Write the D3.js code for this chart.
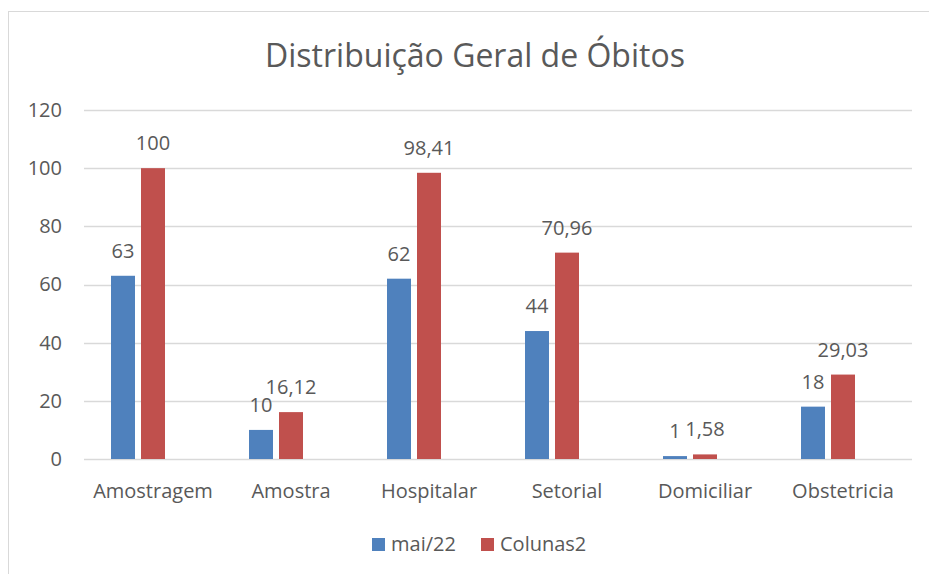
<!DOCTYPE html>
<html>
<head>
<meta charset="utf-8">
<script src="https://cdn.jsdelivr.net/npm/d3@7"></script>
<style>
  body { margin: 0; background: #fff; }
  text { font-family: "Open Sans", sans-serif; fill: #595959; }
</style>
</head>
<body>
<div id="container"></div>
<script>
var categories = ["Amostragem", "Amostra", "Hospitalar", "Setorial", "Domiciliar", "Obstetricia"];
var seriesNames = ["mai/22", "Colunas2", "Colunas3"];
var maiValues = [63, 10, 62, 44, 1, 18];
var colunas2Values = [100, 16.12, 98.41, 70.96, 1.58, 29.03];
var yTicks = [0, 20, 40, 60, 80, 100, 120];
var seriesColors = ["#4f81bd", "#c0504d", "none"];

var chartWidth = 929, chartHeight = 574;
var margin = {left: 84, right: 17, top: 110, bottom: 115};
var labelSize = "20px";

var svg = d3.select("#container").
append("svg").
attr("width", chartWidth).
attr("height", chartHeight);

// chart border (only left and top visible in the picture)
svg.append("rect").
attr("x", 8.5).
attr("y", 11.5).
attr("width", 940).
attr("height", 600).
attr("fill", "none").
attr("stroke", "#d9d9d9");

svg.append("text").
attr("x", 475).
attr("y", 67).
attr("text-anchor", "middle").
style("font-size", "32px").
text("Distribuição Geral de Óbitos");

var x0 = d3.scaleBand().
domain(categories).
range([margin.left, chartWidth - margin.right]);

var x1 = d3.scaleBand().
domain(seriesNames).
range([(x0.bandwidth() - 84) / 2, (x0.bandwidth() + 84) / 2]).
paddingInner(0.2);

var y = d3.scaleLinear().
domain([0, 120]).
range([chartHeight - margin.bottom, margin.top]);

// gridlines
svg.append("g").
selectAll("line").
data(yTicks).
enter().
append("line").
attr("x1", margin.left).
attr("x2", chartWidth - margin.right).
attr("y1", function (d) {return Math.round(y(d)) + 0.5;}).
attr("y2", function (d) {return Math.round(y(d)) + 0.5;}).
attr("stroke", "#d9d9d9").
attr("stroke-width", 1.5);

// y axis labels
var yAxis = d3.axisLeft(y).tickValues(yTicks).tickSize(0).tickPadding(22);
var yG = svg.append("g").
attr("transform", "translate(" + margin.left + ",0)").
call(yAxis);
yG.select(".domain").remove();
yG.selectAll("text").style("font-size", labelSize).style("font-family", null).attr("fill", null);

// x axis labels
var xAxis = d3.axisBottom(x0).tickSize(0).tickPadding(25);
var xG = svg.append("g").
attr("transform", "translate(0," + y(0) + ")").
call(xAxis);
xG.select(".domain").remove();
xG.selectAll("text").style("font-size", labelSize).style("font-family", null).attr("fill", null);

var seriesData = [maiValues, colunas2Values];

// bars
seriesData.forEach(function (values, s) {
  var g = svg.append("g");
  g.selectAll("rect").
  data(values).
  enter().
  append("rect").
  attr("x", function (d, i) {return x0(categories[i]) + x1(seriesNames[s]);}).
  attr("y", function (d) {return y(d);}).
  attr("width", x1.bandwidth()).
  attr("height", function (d) {return y(0) - y(d);}).
  attr("fill", seriesColors[s]);

  g.selectAll("text").
  data(values).
  enter().
  append("text").
  attr("x", function (d, i) {return x0(categories[i]) + x1(seriesNames[s]) + x1.bandwidth() / 2;}).
  attr("y", function (d) {return y(d) - 18;}).
  attr("text-anchor", "middle").
  style("font-size", labelSize).
  text(function (d) {return String(d).replace(".", ",");});
});

// legend
var legendItems = [
  {name: "mai/22", color: seriesColors[0], x: 372},
  {name: "Colunas2", color: seriesColors[1], x: 481}
];
var legend = svg.append("g");
var li = legend.selectAll("g").
data(legendItems).
enter().
append("g").
attr("transform", function (d) {return "translate(" + d.x + ",538)";});
li.append("rect").
attr("width", 13).
attr("height", 13).
attr("fill", function (d) {return d.color;});
li.append("text").
attr("x", 19).
attr("y", 13).
style("font-size", labelSize).
text(function (d) {return d.name;});
</script>
</body>
</html>
